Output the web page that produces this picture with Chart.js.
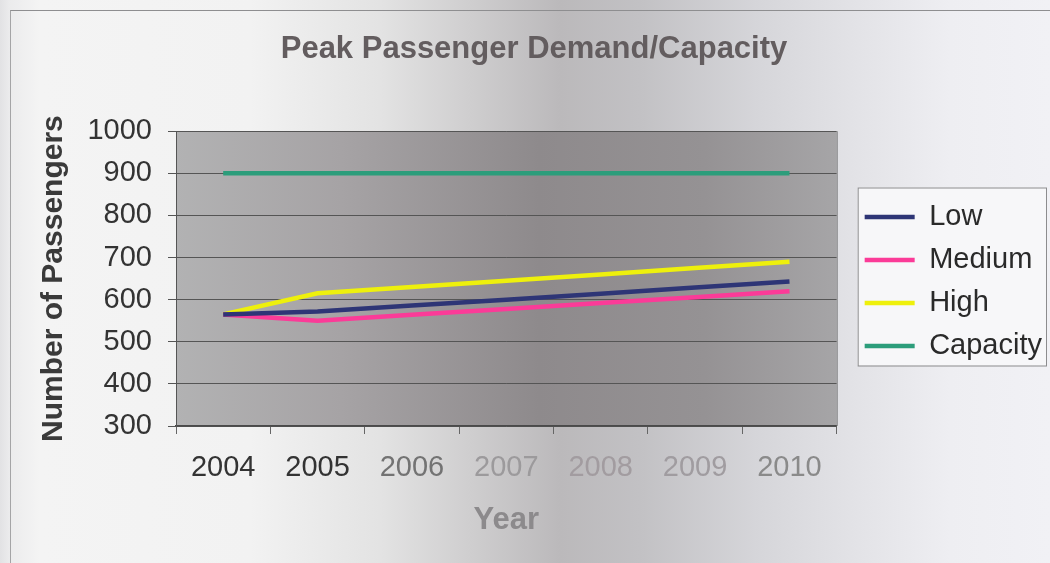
<!DOCTYPE html>
<html>
<head>
<meta charset="utf-8">
<title>Peak Passenger Demand/Capacity</title>
<script src="https://cdn.jsdelivr.net/npm/chart.js@4.4.1/dist/chart.umd.min.js"></script>
<style>
  html, body { margin: 0; padding: 0; }
  body {
    width: 1050px; height: 563px; overflow: hidden; position: relative;
    background: linear-gradient(to right, #e2e2e4 0px, #ebebec 9px, #f4f4f4 40px, #f2f2f2 250px,
      #e3e3e3 380px, #cfcecf 470px, #bbb9bb 560px, #c2c1c4 640px, #d6d6da 760px,
      #e2e2e6 850px, #eeeef2 950px, #f1f1f5 1050px);
  }
  #frame {
    position: absolute; left: 10px; top: 10px; right: 0; bottom: 0;
    border-top: 1px solid #8e8e90; border-left: 1px solid #a4a4a6;
  }
  #wrap { position: absolute; left: 0; top: 0; width: 1050px; height: 563px; }
</style>
</head>
<body>
<div id="frame"></div>
<div id="wrap"><canvas id="grafico" width="1050" height="563"></canvas></div>
<script>
// Dados do gráfico
const anos = ['2004', '2005', '2006', '2007', '2008', '2009', '2010'];
const baixa = [565, 572, 586, 600, 614, 629, 643];
const media = [565, 550, 564, 578, 592, 606, 620];
const alta = [565, 615, 630, 645, 660, 675, 690];
const capacidade = [900, 900, 900, 900, 900, 900, 900];
const eixoY = { min: 300, max: 1000, passo: 100 };

// cores dos anos no eixo X (a cópia escaneada deixa os do meio apagados)
const corAnos = ['#333333', '#333333', '#737373', '#9c9a9c', '#a29ca0', '#a09ca0', '#8a8a8a'];

const fonte = 'Liberation Sans, Arial, sans-serif';

// fundo cinza da área do gráfico + caixa da legenda
const fundoPlot = {
  id: 'fundoPlot',
  beforeDraw(chart) {
    const { ctx, chartArea: a } = chart;
    const g = ctx.createLinearGradient(a.left, 0, a.right, 0);
    g.addColorStop(0, '#b2b2b3');
    g.addColorStop(0.25, '#a6a3a5');
    g.addColorStop(0.55, '#8e8a8c');
    g.addColorStop(0.8, '#959294');
    g.addColorStop(1, '#a6a5a7');
    ctx.save();
    ctx.fillStyle = g;
    ctx.fillRect(a.left, a.top, a.right - a.left, a.bottom - a.top);
    ctx.restore();

    // legenda um pouco afastada do gráfico
    const lg = chart.legend;
    lg.left = a.right + 14;
    lg.right = lg.left + lg.width;
    const itens = lg.legendHitBoxes;
    if (itens.length) {
      const topo = itens[0].top - 15;
      const ult = itens[itens.length - 1];
      const base = ult.top + ult.height + 5;
      ctx.save();
      ctx.fillStyle = '#f7f7f9';
      ctx.strokeStyle = '#8c8c8e';
      ctx.lineWidth = 1;
      ctx.fillRect(lg.left + 7, topo, 1047 - lg.left - 7, base - topo);
      ctx.strokeRect(lg.left + 7.5, topo + 0.5, 1047 - lg.left - 8, base - topo);
      ctx.restore();
    }
  },
  afterDraw(chart) {
    const { ctx, chartArea: a } = chart;
    ctx.save();
    ctx.strokeStyle = '#7a7a7c';
    ctx.lineWidth = 1;
    ctx.beginPath();
    ctx.moveTo(a.right + 0.5, a.top);
    ctx.lineTo(a.right + 0.5, a.bottom);
    ctx.stroke();
    ctx.restore();
  }
};

const serie = (label, data, cor) => ({
  label,
  data,
  borderColor: cor,
  backgroundColor: cor,
  borderWidth: 4.5,
  pointRadius: 0,
  tension: 0
});

const ctx = document.getElementById('grafico').getContext('2d');
const grafico = new Chart(ctx, {
  type: 'line',
  data: {
    labels: anos,
    datasets: [
      serie('Low', baixa, '#2e3576'),
      serie('Medium', media, '#fb3b98'),
      serie('High', alta, '#eef00c'),
      serie('Capacity', capacidade, '#2c9d7b')
    ]
  },
  options: {
    responsive: false,
    animation: false,
    layout: { padding: { left: 30, right: 12, top: 0, bottom: 0 } },
    plugins: {
      title: {
        display: true,
        text: 'Peak Passenger Demand/Capacity',
        color: '#635d5f',
        font: { family: fonte, size: 31, weight: 'bold' },
        padding: { top: 31, bottom: 63 }
      },
      legend: {
        position: 'right',
        labels: {
          usePointStyle: true,
          pointStyle: 'line',
          pointStyleWidth: 50,
          padding: 14,
          color: '#2a2a2a',
          font: { family: fonte, size: 29 }
        }
      },
      tooltip: { enabled: false }
    },
    scales: {
      x: {
        offset: true,
        grid: { drawOnChartArea: false, offset: true, tickLength: 8, color: '#666' },
        border: { color: '#4a4a4a', width: 1.5 },
        ticks: {
          padding: 17,
          color: ctx => corAnos[ctx.index],
          font: { family: fonte, size: 29 }
        },
        title: {
          display: true,
          text: 'Year',
          color: '#8c8a8c',
          font: { family: fonte, size: 31, weight: 'bold' },
          padding: { top: 0, bottom: 24 }
        },
        afterFit(scale) { scale.height = 137; }
      },
      y: {
        min: eixoY.min,
        max: eixoY.max,
        ticks: {
          stepSize: eixoY.passo,
          padding: 16,
          color: '#333',
          font: { family: fonte, size: 29 },
          callback: v => String(v)
        },
        grid: { color: '#555', tickLength: 8 },
        border: { color: '#555' },
        title: {
          display: true,
          text: 'Number of Passengers',
          color: '#3a3a3a',
          font: { family: fonte, size: 30, weight: 'bold' },
          padding: { top: 6, bottom: 0 }
        },
        afterFit(scale) { scale.width = 146; }
      }
    }
  },
  plugins: [fundoPlot]
});
</script>
</body>
</html>
